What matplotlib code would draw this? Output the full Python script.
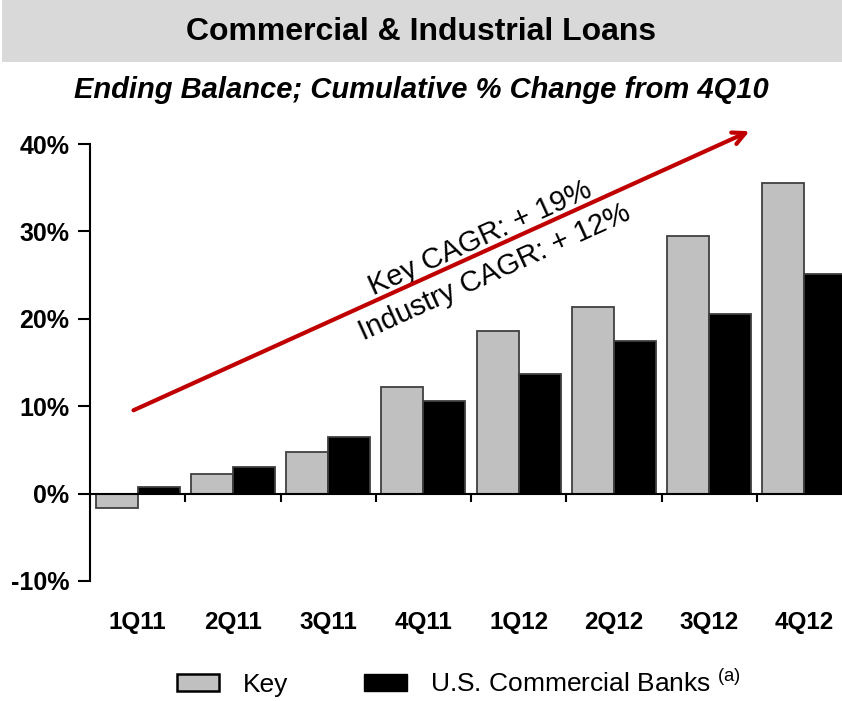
import matplotlib
matplotlib.use("Agg")
import matplotlib.pyplot as plt
from matplotlib.patches import Rectangle, Patch
import numpy as np

plt.rcParams['font.family'] = ['Liberation Sans', 'DejaVu Sans']
plt.rcParams['mathtext.fontset'] = 'custom'
plt.rcParams['mathtext.rm'] = 'Liberation Sans'

quarters = ["1Q11", "2Q11", "3Q11", "4Q11", "1Q12", "2Q12", "3Q12", "4Q12"]
key_vals = [-1.6, 2.2, 4.8, 12.2, 18.6, 21.4, 29.5, 35.5]
bank_vals = [0.8, 3.1, 6.5, 10.6, 13.7, 17.5, 20.6, 25.1]
yticks = [-10, 0, 10, 20, 30, 40]
cagr_text = ["Key CAGR: + 19%", "Industry CAGR: + 12%"]

fig = plt.figure(figsize=(8.42, 7.01), dpi=100)

# title banner
fig.patches.append(Rectangle((0.002, 1 - 62/701), 0.998, 62/701, transform=fig.transFigure,
                             facecolor='#D9D9D9', edgecolor='none', zorder=0))
fig.text(0.5, 1 - 32/701, "Commercial & Industrial Loans", ha='center', va='center',
         fontsize=23, fontweight='bold')
fig.text(0.5, 1 - 90/701, "Ending Balance; Cumulative % Change from 4Q10", ha='center', va='center',
         fontsize=21, fontweight='bold', style='italic')

ax = fig.add_axes([90/842, 120/701, 762/842, 437/701])
x = np.arange(len(quarters))
w = 0.44
ax.bar(x - w/2, key_vals, w, color='#C0C0C0', edgecolor='#404040', linewidth=1.3, zorder=2)
ax.bar(x + w/2, bank_vals, w, color='black', edgecolor='#404040', linewidth=1.3, zorder=2)

ax.set_xlim(-0.5, len(quarters) - 0.5)
ax.set_ylim(-10, 40)
for s in ['top', 'right']:
    ax.spines[s].set_visible(False)
ax.spines['left'].set_linewidth(1.5)
ax.spines['bottom'].set_position(('data', 0))
ax.spines['bottom'].set_linewidth(1.5)
ax.spines['bottom'].set_zorder(3)

ax.set_yticks(yticks)
ax.set_yticklabels([f"{v}%" for v in yticks], fontsize=18, fontweight='bold')
ax.tick_params(axis='y', direction='out', length=9, width=1.5, pad=6)
ax.set_xticks(x[:-1] + 0.5)
ax.set_xticklabels([])
ax.tick_params(axis='x', direction='out', length=6, width=1.5)

for i, q in enumerate(quarters):
    ax.text(i, -14.7, q, ha='center', va='center', fontsize=17.5, fontweight='bold', clip_on=False)

# trend arrow
ax.annotate("", xy=(6.45, 41.6), xytext=(-0.07, 9.4),
            arrowprops=dict(arrowstyle='->,head_length=0.9,head_width=0.45', color='#C00000', lw=3),
            annotation_clip=False, zorder=4)
ang = 24.4
ax.text(3.6, 29.2, cagr_text[0], rotation=ang, rotation_mode='anchor', ha='center', va='center',
        fontsize=21, transform=ax.transData)
ax.text(3.75, 25.3, cagr_text[1], rotation=ang, rotation_mode='anchor', ha='center', va='center',
        fontsize=21, transform=ax.transData)

handles = [Patch(facecolor='#C0C0C0', edgecolor='black', linewidth=1.8),
           Patch(facecolor='black', edgecolor='black')]
fig.legend(handles, ["Key", "U.S. Commercial Banks $^{\\mathrm{(a)}}$"], loc='center',
           bbox_to_anchor=(0.545, 0.026), ncol=2, frameon=False, fontsize=19,
           handlelength=1.6, handleheight=0.6, handletextpad=0.87, columnspacing=2.9)

fig.savefig("out.png", dpi=100)
